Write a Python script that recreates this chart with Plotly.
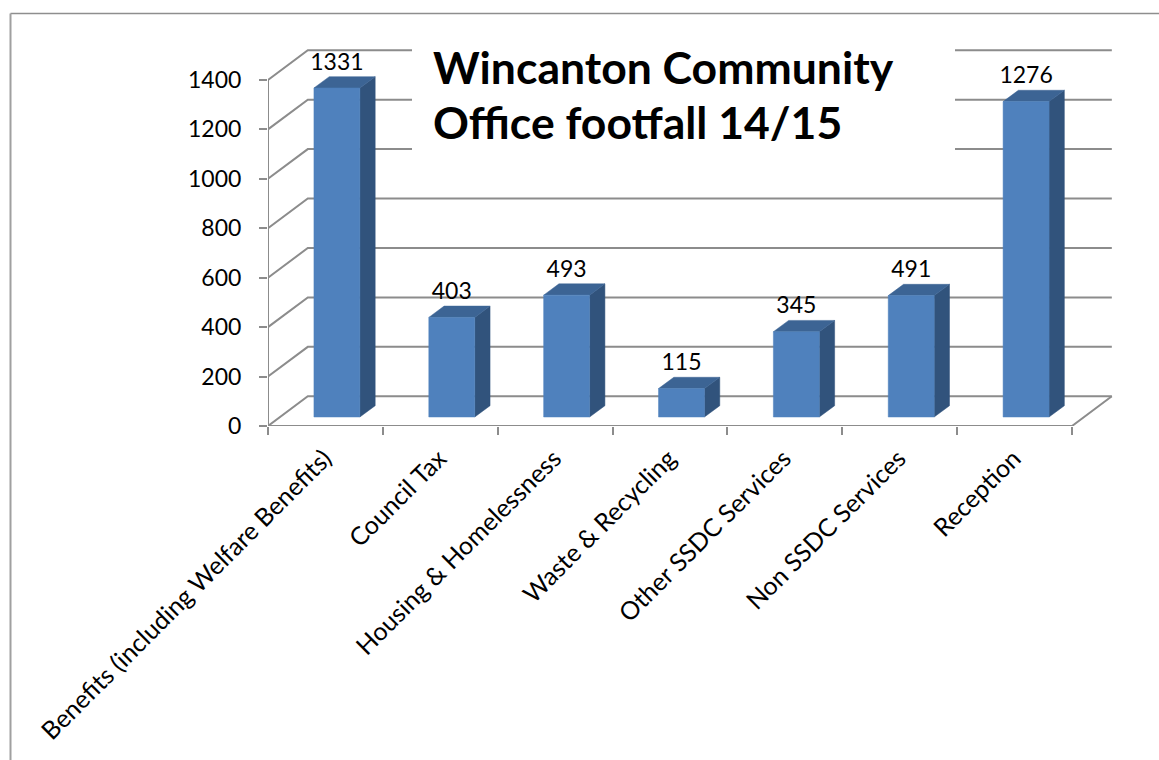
import plotly.graph_objects as go

categories = ["Benefits (including Welfare Benefits)", "Council Tax", "Housing & Homelessness",
              "Waste & Recycling", "Other SSDC Services", "Non SSDC Services", "Reception"]
values = [1331, 403, 493, 115, 345, 491, 1276]
y_ticks = [0, 200, 400, 600, 800, 1000, 1200, 1400]

W, H = 1159, 760
PX_X = 114.86      # pixels per category
PX_Y = 0.2472      # pixels per value unit
X0, Y0 = 268, 426  # pixel position of the axis origin
X1, Y1 = 1116, 45  # pixel extent of the plot area
FONT = "Lato"
GRID = "#8C8C8C"
FRONT, SIDE, TOP = "#4F81BD", "#31537C", "#3C6494"

wall_dx = 39.8 / PX_X
wall_dy = 29.7 / PX_Y
bar_l, bar_r = 0.40, 0.80
bar_base = 9 / PX_Y
side_dx = 15.3 / PX_X
side_dy = 11.3 / PX_Y
n = len(categories)

fig = go.Figure()

gx, gy = [], []
for t in y_ticks:
    gx += [0, wall_dx, n + wall_dx, None]
    gy += [t, t + wall_dy, t + wall_dy, None]
fig.add_trace(go.Scatter(x=gx, y=gy, mode="lines", line=dict(color=GRID, width=2), cliponaxis=False, hoverinfo="skip"))

# floor front edge and right edge, left vertical axis
fig.add_trace(go.Scatter(
    x=[0, n, n + wall_dx, None, 0, 0],
    y=[0, 0, wall_dy, None, 0, y_ticks[-1]],
    mode="lines", line=dict(color=GRID, width=2), cliponaxis=False, hoverinfo="skip"))

sx, sy, tx, ty, fx, fy = [], [], [], [], [], []
for i, v in enumerate(values):
    l, r = i + bar_l, i + bar_r
    b, t = bar_base, bar_base + v
    fx += [l, r, r, l, l, None]
    fy += [b, b, t, t, b, None]
    sx += [r, r + side_dx, r + side_dx, r, r, None]
    sy += [b, b + side_dy, t + side_dy, t, b, None]
    tx += [l, r, r + side_dx, l + side_dx, l, None]
    ty += [t, t, t + side_dy, t + side_dy, t, None]
for px, py, col in [(sx, sy, SIDE), (tx, ty, TOP), (fx, fy, FRONT)]:
    fig.add_trace(go.Scatter(x=px, y=py, mode="lines", fill="toself", fillcolor=col,
                             line=dict(color=col, width=0.5), hoverinfo="skip"))

fig.add_trace(go.Scatter(
    x=[i + (bar_l + bar_r) / 2 for i in range(n)],
    y=[v + bar_base + 24 / PX_Y for v in values],
    mode="text", text=[str(v) for v in values], textposition="middle center",
    textfont=dict(family=FONT, size=23, color="black"), cliponaxis=False, hoverinfo="skip"))

# invisible trace that activates the secondary x axis carrying the tick marks
fig.add_trace(go.Scatter(x=[0, n], y=[0, 0], xaxis="x2", mode="lines", line=dict(width=0), hoverinfo="skip"))

x_range = [0, (X1 - X0) / PX_X]
x_dom = [X0 / W, X1 / W]
fig.update_layout(
    template="none",
    width=W, height=H, margin=dict(l=0, r=0, t=0, b=0, pad=0), autosize=False,
    paper_bgcolor="white", plot_bgcolor="rgba(0,0,0,0)", showlegend=False,
    font=dict(family=FONT, color="black"),
    xaxis=dict(domain=x_dom, range=x_range, tickmode="array", automargin=False,
               tickvals=[i + 0.49 for i in range(n)], ticktext=categories,
               tickangle=-45, ticks="outside", ticklen=7, tickcolor="rgba(0,0,0,0)",
               showgrid=False, zeroline=False, showline=False,
               tickfont=dict(family=FONT, size=25, color="black")),
    xaxis2=dict(domain=x_dom, range=x_range, overlaying="x", side="bottom", anchor="y", automargin=False,
                tickmode="array", tickvals=list(range(n + 1)), ticktext=[""] * (n + 1),
                ticks="outside", ticklen=8, tickwidth=2, tickcolor=GRID,
                showgrid=False, zeroline=False, showline=False),
    yaxis=dict(domain=[1 - Y0 / H, 1 - Y1 / H], range=[0, (Y0 - Y1) / PX_Y], automargin=False,
               tickmode="array", tickvals=y_ticks, ticks="outside", ticklen=8, ticklabelstandoff=13,
               tickwidth=2, tickcolor=GRID, showgrid=False, zeroline=False, showline=False,
               tickfont=dict(family=FONT, size=23, color="black")),
    shapes=[
        dict(type="rect", xref="paper", yref="paper", x0=412 / W, x1=955 / W, y0=1 - 165 / H, y1=1 - 40 / H,
             fillcolor="white", line=dict(width=0), layer="above"),
        dict(type="line", xref="paper", yref="paper", x0=10.5 / W, x1=1, y0=1 - 13.5 / H, y1=1 - 13.5 / H,
             line=dict(color="#8E8E8E", width=1.6), layer="above"),
        dict(type="line", xref="paper", yref="paper", x0=10.5 / W, x1=10.5 / W, y0=1 - 13.5 / H, y1=0,
             line=dict(color="#A0A0A0", width=2), layer="above"),
    ],
    annotations=[
        dict(text="Wincanton Community", xref="paper", yref="paper", x=431 / W, y=1 - 66 / H,
             xanchor="left", yanchor="middle", showarrow=False,
             font=dict(family=FONT, size=44.5, color="black", weight="bold")),
        dict(text="Office footfall 14/15", xref="paper", yref="paper", x=431 / W, y=1 - 122 / H,
             xanchor="left", yanchor="middle", showarrow=False,
             font=dict(family=FONT, size=44.5, color="black", weight="bold")),
    ],
)

fig.write_html("out.html", config={"displayModeBar": False},
               post_script="document.body.style.margin='0';document.body.style.overflow='hidden';")
